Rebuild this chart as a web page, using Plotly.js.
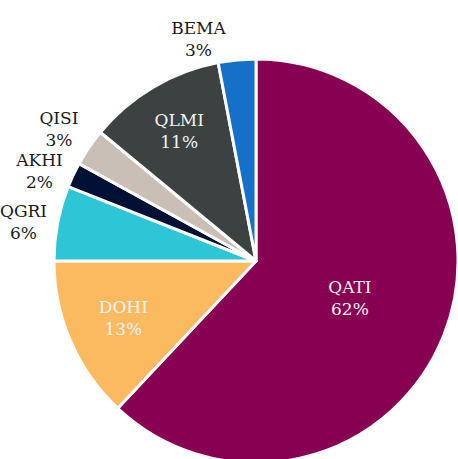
<!DOCTYPE html>
<html>
<head>
<meta charset="utf-8">
<script src="https://cdn.plot.ly/plotly-3.0.1.min.js"></script>
<style>
html, body { margin:0; padding:0; overflow:hidden; background:#fff; }
#chart { width:458px; height:470px; }
.pielayer path.textline { display:none; }
</style>
</head>
<body>
<div id="chart"></div>
<script>
const labels = ["QATI", "DOHI", "QGRI", "AKHI", "QISI", "QLMI", "BEMA"];
const values = [62, 13, 6, 2, 3, 11, 3];
const colors = ["#870051", "#FBB960", "#2CC6D6", "#011035", "#C9BFB7", "#3C4241", "#1570C7"];
const textPositions = ["inside", "inside", "outside", "outside", "outside", "inside", "outside"];

const trace = {
  type: "pie",
  labels: labels,
  values: values,
  sort: false,
  direction: "clockwise",
  rotation: 0,
  marker: { colors: colors, line: { color: "#ffffff", width: 3 } },
  texttemplate: "%{label}<br>%{value}%",
  textposition: textPositions,
  insidetextorientation: "horizontal",
  insidetextfont: { family: "DejaVu Serif", size: 17, color: "#f4f4f4" },
  outsidetextfont: { family: "DejaVu Serif", size: 17, color: "#1a1a1a" },
  hoverinfo: "label+percent",
  showlegend: false,
  domain: { x: [0.1179, 1.0], y: [0.0149, 0.8745] }
};

const layout = {
  width: 458,
  height: 470,
  margin: { l: 0, r: 0, t: 0, b: 0 },
  paper_bgcolor: "#ffffff",
  showlegend: false,
  uniformtext: { minsize: 17, mode: "show" },
  font: { family: "DejaVu Serif", size: 17, color: "#1a1a1a" }
};

Plotly.newPlot("chart", [trace], layout, { displayModeBar: false, staticPlot: true });
</script>
</body>
</html>
